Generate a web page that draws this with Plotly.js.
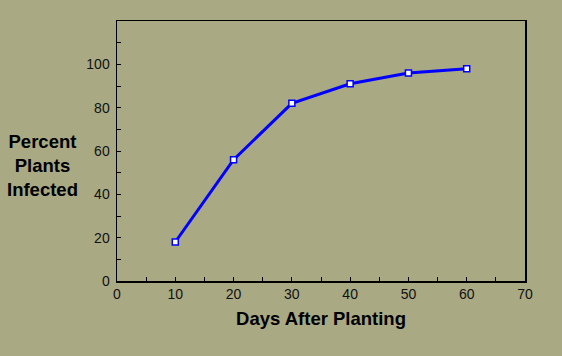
<!DOCTYPE html>
<html><head><meta charset="utf-8">
<script src="https://cdn.plot.ly/plotly-3.0.1.min.js"></script>
<style>html,body{margin:0;padding:0;background:#a9a983;}</style>
</head><body>
<div id="chart" style="width:562px;height:356px;"></div>
<script>
var days = [10, 20, 30, 40, 50, 60];
var percentInfected = [18, 56, 82, 91, 96, 98];
var xTitle = "Days After Planting";
var yTitle = "Percent<br>Plants<br>Infected";

var bg = "#a9a983";
var trace = {
  x: days, y: percentInfected, type: "scatter", mode: "lines+markers",
  line: {color: "#0000ff", width: 3},
  marker: {symbol: "square", size: 6, color: "#ffffff", line: {color: "#0000ff", width: 1.5}},
  hoverinfo: "skip"
};
var axisCommon = {
  showgrid: false, zeroline: false, showline: true, linecolor: "#000", linewidth: 1.5,
  mirror: true, ticks: "inside", ticklen: 4, tickcolor: "#000", tickwidth: 1,
  tickfont: {family: "Liberation Sans, Arial, sans-serif", size: 14, color: "#111"}
};
var layout = {
  width: 562, height: 356,
  paper_bgcolor: bg, plot_bgcolor: bg,
  margin: {l: 117, r: 37, t: 21, b: 75},
  showlegend: false,
  xaxis: Object.assign({}, axisCommon, {
    range: [0, 70], tickmode: "linear", tick0: 0, dtick: 10,
    minor: {dtick: 5, ticks: "inside", ticklen: 4, tickcolor: "#000", showgrid: false},
    title: {text: xTitle, font: {family: "Liberation Sans, Arial, sans-serif", size: 18.5, color: "#000", weight: "bold"}, standoff: 11}
  }),
  yaxis: Object.assign({}, axisCommon, {
    range: [0, 120], tickmode: "array", tickvals: [0, 20, 40, 60, 80, 100],
    minor: {dtick: 10, ticks: "inside", ticklen: 4, tickcolor: "#000", showgrid: false},
    ticklabelstandoff: 3
  }),
  annotations: [{
    text: yTitle, xref: "paper", yref: "paper", x: -0.182, y: 0.445,
    xanchor: "center", yanchor: "middle", showarrow: false, align: "center",
    font: {family: "Liberation Sans, Arial, sans-serif", size: 18.5, color: "#000", weight: "bold"}
  }]
};
Plotly.newPlot("chart", [trace], layout, {displayModeBar: false, staticPlot: true});
</script>
</body></html>
